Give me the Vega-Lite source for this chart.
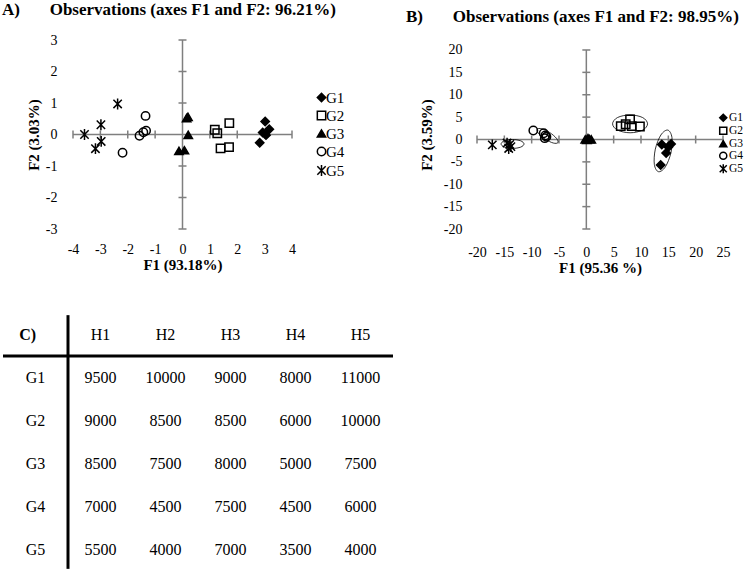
{
  "$schema": "https://vega.github.io/schema/vega-lite/v6.json",
  "background": "white",
  "padding": {"left": 1, "top": 1, "right": 0, "bottom": 0},
  "config": {
    "font": "Liberation Serif",
    "view": {"stroke": null},
    "axis": {
      "labelFont": "Liberation Serif", "titleFont": "Liberation Serif",
      "labelColor": "black", "titleColor": "black",
      "grid": false, "domain": false, "ticks": false, "tickSize": 0,
      "labelFontSize": 14, "titleFontSize": 15, "titleFontWeight": "bold",
      "labelOverlap": false, "labelFlush": false,
      "labelExpr": "'' + datum.value"
    },
    "legend": {"labelFont": "Liberation Serif", "labelColor": "black"}
  },
  "datasets": {
    "axA": [{"F1": -4, "F1e": 4, "F2": 0, "F2e": 0}, {"F1": 0, "F1e": 0, "F2": -3, "F2e": 3}],
    "tickAx": [{"F1": -4, "F2": 0}, {"F1": -3, "F2": 0}, {"F1": -2, "F2": 0}, {"F1": -1, "F2": 0}, {"F1": 1, "F2": 0}, {"F1": 2, "F2": 0}, {"F1": 3, "F2": 0}, {"F1": 4, "F2": 0}],
    "tickAy": [{"F1": 0, "F2": -3}, {"F1": 0, "F2": -2}, {"F1": 0, "F2": -1}, {"F1": 0, "F2": 1}, {"F1": 0, "F2": 2}, {"F1": 0, "F2": 3}],
    "obsA": [
      {"group": "G1", "F1": 3.02, "F2": 0.41}, {"group": "G1", "F1": 3.17, "F2": 0.17}, {"group": "G1", "F1": 2.93, "F2": 0.06}, {"group": "G1", "F1": 3.05, "F2": -0.02}, {"group": "G1", "F1": 2.82, "F2": -0.26},
      {"group": "G2", "F1": 1.71, "F2": 0.36}, {"group": "G2", "F1": 1.18, "F2": 0.15}, {"group": "G2", "F1": 1.27, "F2": 0.04}, {"group": "G2", "F1": 1.39, "F2": -0.44}, {"group": "G2", "F1": 1.7, "F2": -0.4},
      {"group": "G3", "F1": 0.15, "F2": 0.52}, {"group": "G3", "F1": 0.2, "F2": 0.56}, {"group": "G3", "F1": 0.21, "F2": -0.01}, {"group": "G3", "F1": -0.13, "F2": -0.52}, {"group": "G3", "F1": 0.07, "F2": -0.5},
      {"group": "G4", "F1": -1.35, "F2": 0.59}, {"group": "G4", "F1": -1.33, "F2": 0.12}, {"group": "G4", "F1": -1.43, "F2": 0.07}, {"group": "G4", "F1": -1.57, "F2": -0.04}, {"group": "G4", "F1": -2.19, "F2": -0.58},
      {"group": "G5", "F1": -2.37, "F2": 0.97}, {"group": "G5", "F1": -2.98, "F2": 0.31}, {"group": "G5", "F1": -3.58, "F2": 0.0}, {"group": "G5", "F1": -2.97, "F2": -0.22}, {"group": "G5", "F1": -3.18, "F2": -0.45}
    ],
    "axB": [{"F1": -20, "F1e": 25, "F2": 0, "F2e": 0}, {"F1": 0, "F1e": 0, "F2": -20, "F2e": 20}],
    "tickBx": [{"F1": -20, "F2": 0}, {"F1": -15, "F2": 0}, {"F1": -10, "F2": 0}, {"F1": -5, "F2": 0}, {"F1": 5, "F2": 0}, {"F1": 10, "F2": 0}, {"F1": 15, "F2": 0}, {"F1": 20, "F2": 0}, {"F1": 25, "F2": 0}],
    "tickBy": [{"F1": 0, "F2": -20}, {"F1": 0, "F2": -15}, {"F1": 0, "F2": -10}, {"F1": 0, "F2": -5}, {"F1": 0, "F2": 5}, {"F1": 0, "F2": 10}, {"F1": 0, "F2": 15}, {"F1": 0, "F2": 20}],
    "obsB": [
      {"group": "G1", "F1": 13.8, "F2": -1.1}, {"group": "G1", "F1": 15.5, "F2": -1.0}, {"group": "G1", "F1": 15.0, "F2": -1.7}, {"group": "G1", "F1": 14.6, "F2": -3.0}, {"group": "G1", "F1": 13.6, "F2": -5.7},
      {"group": "G2", "F1": 6.3, "F2": 3.0}, {"group": "G2", "F1": 7.2, "F2": 3.4}, {"group": "G2", "F1": 8.0, "F2": 4.5}, {"group": "G2", "F1": 8.3, "F2": 3.0}, {"group": "G2", "F1": 9.8, "F2": 2.9},
      {"group": "G3", "F1": -0.2, "F2": 0.0}, {"group": "G3", "F1": 0.3, "F2": 0.3}, {"group": "G3", "F1": 0.6, "F2": 0.1}, {"group": "G3", "F1": 0.1, "F2": -0.1}, {"group": "G3", "F1": 0.9, "F2": 0.0},
      {"group": "G4", "F1": -9.7, "F2": 2.0}, {"group": "G4", "F1": -7.8, "F2": 1.4}, {"group": "G4", "F1": -7.5, "F2": 0.9}, {"group": "G4", "F1": -7.3, "F2": 0.6}, {"group": "G4", "F1": -7.6, "F2": 0.3},
      {"group": "G5", "F1": -17.2, "F2": -1.2}, {"group": "G5", "F1": -14.5, "F2": -0.8}, {"group": "G5", "F1": -14.0, "F2": -1.1}, {"group": "G5", "F1": -14.2, "F2": -2.0}, {"group": "G5", "F1": -13.8, "F2": -1.6}
    ],
    "ellB": [
      {"group": "G1", "idx": 1, "F1": 14.9, "F2": 2.1}, {"group": "G1", "idx": 2, "F1": 15.66, "F2": 0.46}, {"group": "G1", "idx": 3, "F1": 15.48, "F2": -2.94}, {"group": "G1", "idx": 4, "F1": 14.46, "F2": -6.11}, {"group": "G1", "idx": 5, "F1": 13.2, "F2": -7.2}, {"group": "G1", "idx": 6, "F1": 12.44, "F2": -5.56}, {"group": "G1", "idx": 7, "F1": 12.62, "F2": -2.16}, {"group": "G1", "idx": 8, "F1": 13.64, "F2": 1.01},
      {"group": "G2", "idx": 1, "F1": 4.8, "F2": 3.5}, {"group": "G2", "idx": 2, "F1": 5.7, "F2": 4.9}, {"group": "G2", "idx": 3, "F1": 8.0, "F2": 5.5}, {"group": "G2", "idx": 4, "F1": 10.3, "F2": 4.9}, {"group": "G2", "idx": 5, "F1": 11.2, "F2": 3.5}, {"group": "G2", "idx": 6, "F1": 10.3, "F2": 2.1}, {"group": "G2", "idx": 7, "F1": 8.0, "F2": 1.5}, {"group": "G2", "idx": 8, "F1": 5.7, "F2": 2.1},
      {"group": "G4", "idx": 1, "F1": -5.2, "F2": -0.7}, {"group": "G4", "idx": 2, "F1": -6.04, "F2": -0.79}, {"group": "G4", "idx": 3, "F1": -7.5, "F2": 0.05}, {"group": "G4", "idx": 4, "F1": -8.73, "F2": 1.33}, {"group": "G4", "idx": 5, "F1": -9.0, "F2": 2.3}, {"group": "G4", "idx": 6, "F1": -8.16, "F2": 2.39}, {"group": "G4", "idx": 7, "F1": -6.7, "F2": 1.55}, {"group": "G4", "idx": 8, "F1": -5.47, "F2": 0.27},
      {"group": "G5", "idx": 1, "F1": -15.6, "F2": -1.0}, {"group": "G5", "idx": 2, "F1": -15.0, "F2": -0.3}, {"group": "G5", "idx": 3, "F1": -13.5, "F2": 0.0}, {"group": "G5", "idx": 4, "F1": -12.0, "F2": -0.3}, {"group": "G5", "idx": 5, "F1": -11.4, "F2": -1.0}, {"group": "G5", "idx": 6, "F1": -12.0, "F2": -1.7}, {"group": "G5", "idx": 7, "F1": -13.5, "F2": -2.0}, {"group": "G5", "idx": 8, "F1": -15.0, "F2": -1.7}
    ],
    "tableC": [
      {"row": "G1", "col": "H1", "value": 9500}, {"row": "G1", "col": "H2", "value": 10000}, {"row": "G1", "col": "H3", "value": 9000}, {"row": "G1", "col": "H4", "value": 8000}, {"row": "G1", "col": "H5", "value": 11000},
      {"row": "G2", "col": "H1", "value": 9000}, {"row": "G2", "col": "H2", "value": 8500}, {"row": "G2", "col": "H3", "value": 8500}, {"row": "G2", "col": "H4", "value": 6000}, {"row": "G2", "col": "H5", "value": 10000},
      {"row": "G3", "col": "H1", "value": 8500}, {"row": "G3", "col": "H2", "value": 7500}, {"row": "G3", "col": "H3", "value": 8000}, {"row": "G3", "col": "H4", "value": 5000}, {"row": "G3", "col": "H5", "value": 7500},
      {"row": "G4", "col": "H1", "value": 7000}, {"row": "G4", "col": "H2", "value": 4500}, {"row": "G4", "col": "H3", "value": 7500}, {"row": "G4", "col": "H4", "value": 4500}, {"row": "G4", "col": "H5", "value": 6000},
      {"row": "G5", "col": "H1", "value": 5500}, {"row": "G5", "col": "H2", "value": 4000}, {"row": "G5", "col": "H3", "value": 7000}, {"row": "G5", "col": "H4", "value": 3500}, {"row": "G5", "col": "H5", "value": 4000}
    ],
    "headC": [{"row": "header", "col": "H1"}, {"row": "header", "col": "H2"}, {"row": "header", "col": "H3"}, {"row": "header", "col": "H4"}, {"row": "header", "col": "H5"}],
    "rowsC": [{"row": "G1", "col": "group"}, {"row": "G2", "col": "group"}, {"row": "G3", "col": "group"}, {"row": "G4", "col": "group"}, {"row": "G5", "col": "group"}],
    "cornerC": [{"row": "header", "col": "group", "label": "C)"}]
  },
  "bounds": "flush",
  "spacing": 273,
  "vconcat": [
    {
      "spacing": 61,
      "bounds": "full",
      "hconcat": [
        {
          "width": 219, "height": 189,
          "title": {"text": "A)\u00a0\u00a0\u00a0\u00a0\u00a0\u00a0\u00a0Observations (axes F1 and F2: 96.21%)", "anchor": "start", "frame": "group", "dx": -71, "offset": 14, "fontSize": 17, "fontWeight": "bold", "font": "Liberation Serif", "color": "black"},
          "encoding": {
            "x": {"field": "F1", "type": "quantitative", "scale": {"domain": [-4, 4], "nice": false, "zero": false}, "axis": {"title": "F1 (93.18%)", "values": [-4, -3, -2, -1, 0, 1, 2, 3, 4], "labelPadding": 13, "titlePadding": 1}},
            "y": {"field": "F2", "type": "quantitative", "scale": {"domain": [-3, 3], "nice": false, "zero": false}, "axis": {"title": "F2 (3.03%)", "values": [-3, -2, -1, 0, 1, 2, 3], "labelPadding": 16, "titlePadding": 4}}
          },
          "layer": [
            {"data": {"name": "axA"}, "mark": {"type": "rule", "color": "#7f7f7f", "strokeWidth": 1.5}, "encoding": {"x2": {"field": "F1e"}, "y2": {"field": "F2e"}}},
            {"data": {"name": "tickAx"}, "mark": {"type": "tick", "orient": "vertical", "size": 8, "thickness": 1.5, "color": "#7f7f7f", "opacity": 1}},
            {"data": {"name": "tickAy"}, "mark": {"type": "tick", "orient": "horizontal", "size": 8, "thickness": 1.5, "color": "#7f7f7f", "opacity": 1}},
            {
              "data": {"name": "obsA"},
              "mark": {"type": "point", "stroke": "black", "strokeWidth": 1.5, "size": 70, "opacity": 1},
              "encoding": {
                "shape": {"field": "group", "type": "nominal", "scale": {"domain": ["G1", "G2", "G3", "G4", "G5"], "range": ["diamond", "square", "triangle-up", "circle", "M-1,-1L1,1M-1,1L1,-1M0,-1.3L0,1.3"]}, "legend": {"title": null, "orient": "none", "legendX": 241, "legendY": 50, "padding": 0, "labelFontSize": 15, "symbolSize": 70, "rowPadding": 2, "labelOffset": -3, "encode": {"symbols": {"update": {"stroke": {"value": "black"}, "strokeWidth": {"value": 1.5}}}}}},
                "fill": {"field": "group", "type": "nominal", "scale": {"domain": ["G1", "G2", "G3", "G4", "G5"], "range": ["black", "transparent", "black", "transparent", "transparent"]}, "legend": {"title": null, "orient": "none", "legendX": 241, "legendY": 50, "padding": 0, "labelFontSize": 15, "symbolSize": 70, "rowPadding": 2, "labelOffset": -3, "encode": {"symbols": {"update": {"stroke": {"value": "black"}, "strokeWidth": {"value": 1.5}}}}}}
              }
            }
          ],
          "resolve": {"scale": {"shape": "independent", "fill": "independent"}}
        },
        {
          "width": 246, "height": 189,
          "title": {"text": "B)\u00a0\u00a0\u00a0\u00a0\u00a0\u00a0\u00a0Observations (axes F1 and F2: 98.95%)", "anchor": "start", "frame": "group", "dx": -71, "offset": 14, "fontSize": 17, "fontWeight": "bold", "font": "Liberation Serif", "color": "black"},
          "encoding": {
            "x": {"field": "F1", "type": "quantitative", "scale": {"domain": [-20, 25], "nice": false, "zero": false}, "axis": {"title": "F1 (95.36 %)", "values": [-20, -15, -10, -5, 0, 5, 10, 15, 20, 25], "labelPadding": 16, "titlePadding": 1}},
            "y": {"field": "F2", "type": "quantitative", "scale": {"domain": [-20, 22.23], "nice": false, "zero": false}, "axis": {"title": "F2 (3.59%)", "values": [-20, -15, -10, -5, 0, 5, 10, 15, 20], "labelPadding": 15, "titlePadding": 9}}
          },
          "layer": [
            {"data": {"name": "axB"}, "mark": {"type": "rule", "color": "#7f7f7f", "strokeWidth": 1.5}, "encoding": {"x2": {"field": "F1e"}, "y2": {"field": "F2e"}}},
            {"data": {"name": "tickBx"}, "mark": {"type": "tick", "orient": "vertical", "size": 8, "thickness": 1.5, "color": "#7f7f7f", "opacity": 1}},
            {"data": {"name": "tickBy"}, "mark": {"type": "tick", "orient": "horizontal", "size": 8, "thickness": 1.5, "color": "#7f7f7f", "opacity": 1}},
            {
              "data": {"name": "obsB"},
              "mark": {"type": "point", "stroke": "black", "strokeWidth": 1.5, "size": 70, "opacity": 1},
              "encoding": {
                "shape": {"field": "group", "type": "nominal", "scale": {"domain": ["G1", "G2", "G3", "G4", "G5"], "range": ["diamond", "square", "triangle-up", "circle", "M-1,-1L1,1M-1,1L1,-1M0,-1.3L0,1.3"]}, "legend": {"title": null, "orient": "none", "legendX": 240.5, "legendY": 72, "padding": 0, "labelFontSize": 11.5, "symbolSize": 50, "rowPadding": -2, "labelOffset": 0, "encode": {"symbols": {"update": {"stroke": {"value": "black"}, "strokeWidth": {"value": 1.5}}}}}},
                "fill": {"field": "group", "type": "nominal", "scale": {"domain": ["G1", "G2", "G3", "G4", "G5"], "range": ["black", "transparent", "black", "transparent", "transparent"]}, "legend": {"title": null, "orient": "none", "legendX": 240.5, "legendY": 72, "padding": 0, "labelFontSize": 11.5, "symbolSize": 50, "rowPadding": -2, "labelOffset": 0, "encode": {"symbols": {"update": {"stroke": {"value": "black"}, "strokeWidth": {"value": 1.5}}}}}}
              }
            },
            {
              "data": {"name": "ellB"},
              "mark": {"type": "line", "interpolate": "cardinal-closed", "color": "black", "strokeWidth": 0.8},
              "encoding": {"detail": {"field": "group", "type": "nominal"}, "order": {"field": "idx", "type": "quantitative"}}
            }
          ],
          "resolve": {"scale": {"shape": "independent", "fill": "independent"}}
        }
      ]
    },
    {
      "width": 390, "height": 258,
      "encoding": {
        "x": {"field": "col", "type": "nominal", "scale": {"type": "band", "domain": ["group", "H1", "H2", "H3", "H4", "H5"], "range": [-70, 320], "paddingInner": 0, "paddingOuter": 0}, "axis": null},
        "y": {"field": "row", "type": "nominal", "scale": {"type": "band", "domain": ["header", "G1", "G2", "G3", "G4", "G5"], "paddingInner": 0, "paddingOuter": 0}, "axis": null}
      },
      "layer": [
        {"data": {"name": "tableC"}, "mark": {"type": "text", "fontSize": 16, "font": "Liberation Serif", "color": "black", "baseline": "middle"}, "encoding": {"text": {"field": "value", "type": "nominal"}}},
        {"data": {"name": "headC"}, "mark": {"type": "text", "fontSize": 16, "font": "Liberation Serif", "color": "black", "baseline": "middle"}, "encoding": {"text": {"field": "col", "type": "nominal"}}},
        {"data": {"name": "rowsC"}, "mark": {"type": "text", "fontSize": 16, "font": "Liberation Serif", "color": "black", "baseline": "middle"}, "encoding": {"text": {"field": "row", "type": "nominal"}}},
        {"data": {"name": "cornerC"}, "mark": {"type": "text", "fontSize": 16, "font": "Liberation Serif", "fontWeight": "bold", "color": "black", "baseline": "middle"}, "encoding": {"x": {"field": "col", "type": "nominal", "bandPosition": 0.38}, "text": {"field": "label", "type": "nominal"}}},
        {"data": {"name": "cornerC"}, "mark": {"type": "rule", "color": "black", "strokeWidth": 3},
          "encoding": {"x": {"datum": "group", "bandPosition": 0}, "x2": {"datum": "H5", "bandPosition": 1}, "y": {"datum": "header", "bandPosition": 1}}},
        {"data": {"name": "cornerC"}, "mark": {"type": "rule", "color": "black", "strokeWidth": 3},
          "encoding": {"x": {"datum": "group", "bandPosition": 1}, "y": {"datum": "header", "bandPosition": 0.05}, "y2": {"datum": "G5", "bandPosition": 0.95}}}
      ]
    }
  ]
}
